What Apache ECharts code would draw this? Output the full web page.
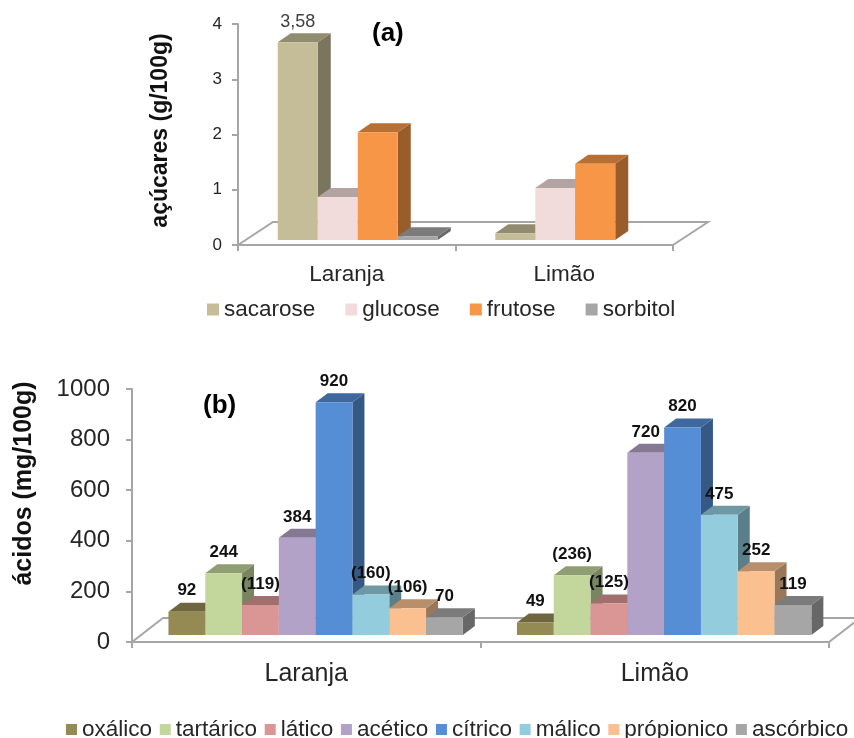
<!DOCTYPE html>
<html><head><meta charset="utf-8">
<style>html,body{margin:0;padding:0;background:#fff}#c{width:854px;height:738px}</style>
<script src="https://cdn.jsdelivr.net/npm/echarts@6/dist/echarts.min.js"></script>
</head><body><div id="c"></div>
<script>
const categories = ['Laranja', 'Limão'];

const sacarose = [3.58, 0.12];
const glucose = [0.78, 0.94];
const frutose = [1.95, 1.38];
const sorbitol = [0.07, null];
const sacaroseLabels = ['3,58', ''];

const oxalico = [92, 49];
const tartarico = [244, 236];
const latico = [119, 125];
const acetico = [384, 720];
const citrico = [920, 820];
const malico = [160, 475];
const propionico = [106, 252];
const ascorbico = [70, 119];
const oxalicoLabels = ['92', '49'];
const tartaricoLabels = ['244', '(236)'];
const laticoLabels = ['(119)', '(125)'];
const aceticoLabels = ['384', '720'];
const citricoLabels = ['920', '820'];
const malicoLabels = ['(160)', '475'];
const propionicoLabels = ['(106)', '252'];
const ascorbicoLabels = ['70', '119'];

const ticksA = [0, 1, 2, 3, 4];
const ticksB = [0, 200, 400, 600, 800, 1000];

const FONT = '"Liberation Sans", Arial, sans-serif';

const setA = [
  {name: 'sacarose', values: sacarose, labels: sacaroseLabels, color: '#c4bd97'},
  {name: 'glucose', values: glucose, labels: null, color: '#f2dcdb'},
  {name: 'frutose', values: frutose, labels: null, color: '#f79646'},
  {name: 'sorbitol', values: sorbitol, labels: null, color: '#a6a6a6'}
];
const setB = [
  {name: 'oxálico', values: oxalico, labels: oxalicoLabels, color: '#948a54'},
  {name: 'tartárico', values: tartarico, labels: tartaricoLabels, color: '#c3d69b'},
  {name: 'lático', values: latico, labels: laticoLabels, color: '#d99694'},
  {name: 'acético', values: acetico, labels: aceticoLabels, color: '#b3a2c7'},
  {name: 'cítrico', values: citrico, labels: citricoLabels, color: '#558ed5'},
  {name: 'málico', values: malico, labels: malicoLabels, color: '#93cddd'},
  {name: 'própionico', values: propionico, labels: propionicoLabels, color: '#fac090'},
  {name: 'ascórbico', values: ascorbico, labels: ascorbicoLabels, color: '#a6a6a6'}
];

function shade(hex, f) {
  const n = parseInt(hex.slice(1), 16);
  const c = s => Math.round(((n >> s) & 255) * f);
  return `rgb(${c(16)},${c(8)},${c(0)})`;
}

// depth: oblique projection settings of the pseudo-3D look
const viewA = {bw: 40, shift: 11, lift: 5, dx: 13, dy: 9, floorDx: 35, floorDy: 23};
const viewB = {bw: 36.8, shift: 9.4, lift: 7, dx: 12, dy: 9, floorDx: 31, floorDy: 24};

function floorSeries(gridIndex, view) {
  return {
    type: 'custom', name: '_floor' + gridIndex, xAxisIndex: gridIndex, yAxisIndex: gridIndex, z: 1,
    silent: true, data: [[0, 0]],
    renderItem(params, api) {
      const s = params.coordSys;
      const x0 = s.x, x1 = s.x + s.width, y = s.y + s.height;
      const line = {stroke: '#a6a6a6', lineWidth: 2, fill: null};
      return {
        type: 'polyline',
        shape: {points: [[x0, y], [x0 + view.floorDx, y - view.floorDy], [x1 + view.floorDx, y - view.floorDy], [x1, y]]},
        style: line
      };
    }
  };
}

function barSeries(item, i, count, gridIndex, view) {
  return {
    type: 'custom', name: item.name, xAxisIndex: gridIndex, yAxisIndex: gridIndex, z: 2 + i,
    silent: true,
    itemStyle: {color: item.color},
    data: item.values.map((v, k) => [k, v]),
    renderItem(params, api) {
      const v = api.value(1);
      if (isNaN(v)) return;
      const base = api.coord([api.value(0), 0]);
      const top = api.coord([api.value(0), v]);
      const xl = base[0] + view.shift + (i - count / 2) * view.bw;
      const xr = xl + view.bw;
      const yb = base[1] - view.lift, yt = top[1] - view.lift;
      const dx = view.dx, dy = view.dy;
      return {
        type: 'group',
        children: [
          {type: 'polygon', shape: {points: [[xr, yb], [xr + dx, yb - dy], [xr + dx, yt - dy], [xr, yt]]},
            style: {fill: shade(item.color, 0.62)}},
          {type: 'polygon', shape: {points: [[xl, yt], [xl + dx, yt - dy], [xr + dx, yt - dy], [xr, yt]]},
            style: {fill: shade(item.color, 0.74)}},
          {type: 'rect', shape: {x: xl, y: yt, width: view.bw, height: yb - yt},
            style: {fill: item.color}}
        ]
      };
    }
  };
}

function labelSeries(item, i, count, gridIndex, view, font) {
  return {
    type: 'custom', name: '_label' + gridIndex + i, xAxisIndex: gridIndex, yAxisIndex: gridIndex, z: 50,
    silent: true,
    data: item.values.map((v, k) => [k, v]),
    renderItem(params, api) {
      const v = api.value(1);
      const text = item.labels[params.dataIndex];
      if (isNaN(v) || !text) return;
      const base = api.coord([api.value(0), 0]);
      const top = api.coord([api.value(0), v]);
      const xc = base[0] + view.shift + (i - count / 2 + 0.5) * view.bw;
      return {
        type: 'text', z2: 100,
        style: {x: xc, y: top[1] - view.lift - font.gap, text, align: 'center', verticalAlign: 'middle',
          fill: font.color, font: font.font}
      };
    }
  };
}

const fontA = {font: '18px ' + FONT, color: '#404040', gap: 20};
const fontB = {font: 'bold 17px ' + FONT, color: '#111', gap: 21};

const series = [floorSeries(0, viewA), floorSeries(1, viewB)];
setA.forEach((it, i) => series.push(barSeries(it, i, setA.length, 0, viewA)));
setB.forEach((it, i) => series.push(barSeries(it, i, setB.length, 1, viewB)));
setA.forEach((it, i) => { if (it.labels) series.push(labelSeries(it, i, setA.length, 0, viewA, fontA)); });
setB.forEach((it, i) => { if (it.labels) series.push(labelSeries(it, i, setB.length, 1, viewB, fontB)); });

function catAxis(gridIndex, size, margin) {
  return {
    type: 'category', gridIndex, data: categories, boundaryGap: true,
    axisLine: {lineStyle: {color: '#a6a6a6', width: 2}},
    axisTick: {show: true, length: 6, alignWithLabel: false, lineStyle: {color: '#a6a6a6', width: 2}},
    axisLabel: {color: '#262626', fontFamily: FONT, fontSize: size, margin, interval: 0},
    splitLine: {show: false}
  };
}
function valAxis(gridIndex, ticks, name, size, margin, nameSize, nameGap, pad) {
  return {
    type: 'value', gridIndex, min: ticks[0], max: ticks[ticks.length - 1], interval: ticks[1] - ticks[0],
    name, nameLocation: 'middle', nameGap,
    nameTextStyle: {color: '#111', fontFamily: FONT, fontWeight: 'bold', fontSize: nameSize, padding: [0, 0, 0, pad]},
    axisLine: {show: true, lineStyle: {color: '#a6a6a6', width: 2}},
    axisTick: {show: true, length: 6, lineStyle: {color: '#a6a6a6', width: 2}},
    axisLabel: {color: '#262626', fontFamily: FONT, fontSize: size, margin, padding: [3, 0, 0, 0], formatter: v => String(v)},
    splitLine: {show: false}
  };
}
function legend(names, left, top, size, width, gap, boxWidth) {
  return {
    data: names, left, top, width: boxWidth, padding: 0, icon: 'rect', itemWidth: width, itemHeight: width,
    itemGap: gap, selectedMode: false,
    textStyle: {color: '#262626', fontFamily: FONT, fontSize: size}
  };
}

const chart = echarts.init(document.getElementById('c'), null, {renderer: 'canvas'});
chart.setOption({
  animation: false,
  backgroundColor: '#fff',
  title: [
    {text: '(a)', left: 367, top: 16, textStyle: {fontFamily: FONT, fontWeight: 'bold', fontSize: 26, color: '#000'}},
    {text: '(b)', left: 198, top: 388, textStyle: {fontFamily: FONT, fontWeight: 'bold', fontSize: 26, color: '#000'}}
  ],
  legend: [
    legend(setA.map(d => d.name), 207, 298, 22.5, 12, 30, 600),
    legend(setB.map(d => d.name), 66, 718, 22.5, 11, 7.7, 800)
  ],
  grid: [
    {left: 238, top: 24, width: 435, height: 221, containLabel: false},
    {left: 132, top: 389, width: 697, height: 253, containLabel: false}
  ],
  xAxis: [catAxis(0, 22.5, 18), catAxis(1, 25, 20)],
  yAxis: [
    valAxis(0, ticksA, 'açúcares (g/100g)', 17, 16, 23, 66, 8),
    valAxis(1, ticksB, 'ácidos (mg/100g)', 24, 22, 25, 95, 64)
  ],
  series
});
</script></body></html>
